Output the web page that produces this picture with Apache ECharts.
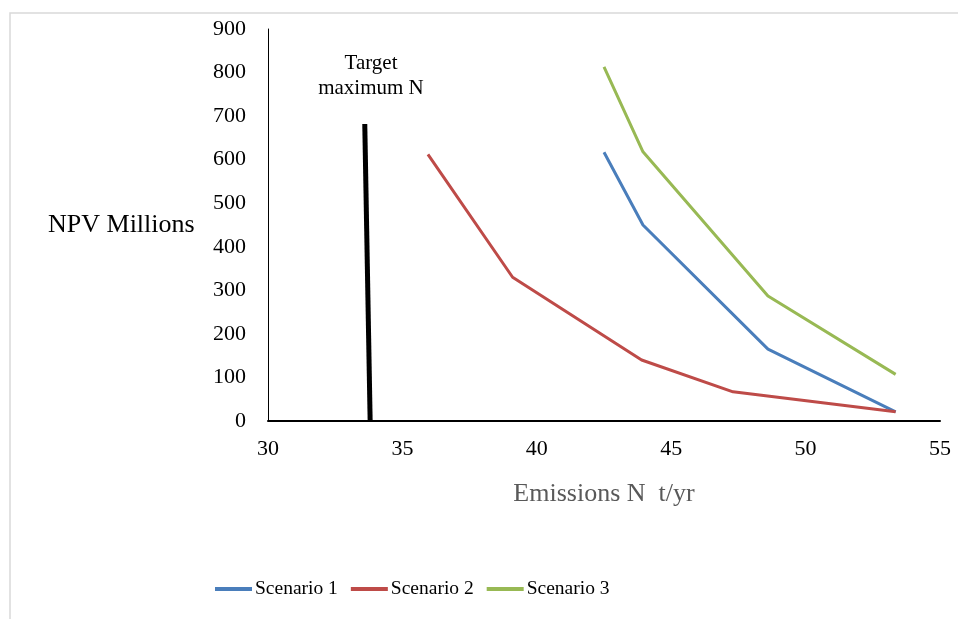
<!DOCTYPE html>
<html>
<head>
<meta charset="utf-8">
<script src="https://cdn.jsdelivr.net/npm/echarts@6/dist/echarts.min.js"></script>
<style>
html,body{margin:0;padding:0;background:#fff;}
#main{width:958px;height:619px;}
</style>
</head>
<body>
<div id="main"></div>
<script>
// data
var s1x = [42.5, 43.95, 48.6, 53.35];
var s1y = [617, 450, 165, 21];
var s2x = [35.95, 39.1, 43.9, 47.3, 53.35];
var s2y = [612, 330, 140, 67, 21];
var s3x = [42.5, 43.95, 48.6, 53.35];
var s3y = [813, 618, 287, 107];
var targetX = [33.6, 33.8];
var targetY = [682, 0];
var seriesNames = ['Scenario 1', 'Scenario 2', 'Scenario 3'];

function pairs(xs, ys) {
	return xs.map(function(x, i) { return [x, ys[i]]; });
}

var font = '"Liberation Serif", "DejaVu Serif", serif';
var myChart = echarts.init(document.getElementById('main'));
var option = {
	animation: false,
	backgroundColor: '#fff',
	grid: { left: 268, right: 18, top: 29, bottom: 198 },
	legend: {
		data: seriesNames,
		bottom: 15,
		left: 210,
		itemWidth: 37,
		itemHeight: 4,
		itemGap: 13,
		icon: 'rect',
		textStyle: { fontFamily: font, fontSize: 19.5, color: '#000', padding: [0, 0, 0, -2] }
	},
	xAxis: {
		type: 'value',
		min: 30, max: 55, interval: 5,
		name: 'Emissions N  t/yr',
		nameLocation: 'middle',
		nameGap: 60,
		nameTextStyle: { fontFamily: font, fontSize: 26, color: '#595959' },
		axisLine: { show: true, onZero: false, lineStyle: { color: '#000', width: 2 } },
		axisTick: { show: false },
		splitLine: { show: false },
		axisLabel: { fontFamily: font, fontSize: 22, color: '#000', margin: 17 }
	},
	yAxis: {
		type: 'value',
		min: 0, max: 900, interval: 100,
		axisLine: { show: true, lineStyle: { color: '#000', width: 1 } },
		axisTick: { show: false },
		splitLine: { show: false },
		axisLabel: { fontFamily: font, fontSize: 22, color: '#000', margin: 22 }
	},
	graphic: [
		{ type: 'polyline', shape: { points: [[10, 619], [10, 13], [958, 13]] }, style: { stroke: '#d9d9d9', fill: null, lineWidth: 1.5 } },
		{ type: 'text', left: 48, top: 212, style: { text: 'NPV Millions', fontFamily: font, fontSize: 26, fill: '#000' } },
		{ type: 'text', x: 371, y: 51, style: { text: 'Target\nmaximum N', align: 'center', fontFamily: font, fontSize: 21, lineHeight: 25, fill: '#000' } }
	],
	series: [
		{ name: seriesNames[0], type: 'line', data: pairs(s1x, s1y), showSymbol: false, color: '#4a7ebb', lineStyle: { width: 3 } },
		{ name: seriesNames[1], type: 'line', data: pairs(s2x, s2y), showSymbol: false, color: '#be4b48', lineStyle: { width: 3 } },
		{ name: seriesNames[2], type: 'line', data: pairs(s3x, s3y), showSymbol: false, color: '#98b954', lineStyle: { width: 3 } },
		{ name: 'Target', type: 'line', data: pairs(targetX, targetY), showSymbol: false, color: '#000', lineStyle: { width: 5 } }
	]
};
myChart.setOption(option);
</script>
</body>
</html>
